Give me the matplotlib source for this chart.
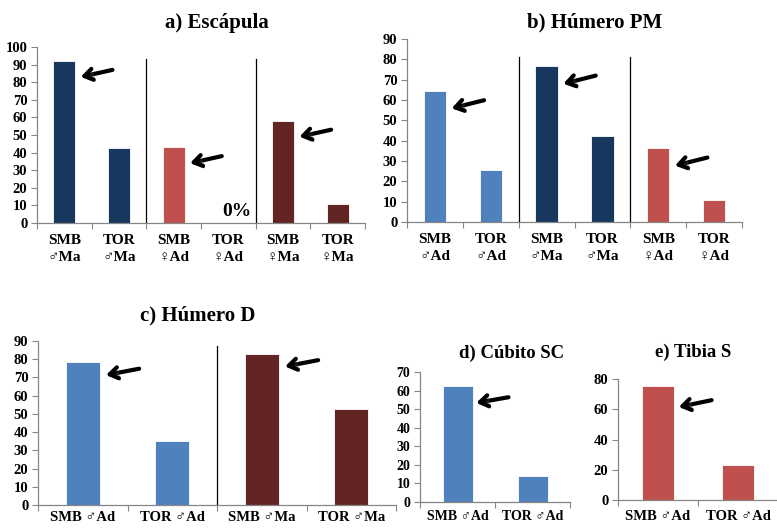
import numpy as np
import matplotlib.pyplot as plt
from matplotlib import patheffects as pe
from matplotlib.ticker import FixedLocator

# colours
LBLUE = '#4F81BD'
NAVY = '#17375E'
RED = '#C0504D'
MAROON = '#632523'

# --- data ---
a_labels = ['SMB\n♂Ma', 'TOR\n♂Ma', 'SMB\n♀Ad', 'TOR\n♀Ad', 'SMB\n♀Ma', 'TOR\n♀Ma']
a_values = [92, 42.5, 43, 0, 58, 11]
a_colors = [NAVY, NAVY, RED, RED, MAROON, MAROON]

b_labels = ['SMB\n♂Ad', 'TOR\n♂Ad', 'SMB\n♂Ma', 'TOR\n♂Ma', 'SMB\n♀Ad', 'TOR\n♀Ad']
b_values = [64.4, 25.6, 76.5, 42.2, 36.2, 11]
b_colors = [LBLUE, LBLUE, NAVY, NAVY, RED, RED]

c_labels = ['SMB ♂Ad', 'TOR ♂Ad', 'SMB ♂Ma', 'TOR ♂Ma']
c_values = [78.3, 35.3, 83, 52.6]
c_colors = [LBLUE, LBLUE, MAROON, MAROON]

d_labels = ['SMB ♂Ad', 'TOR ♂Ad']
d_values = [62.4, 14]
d_colors = [LBLUE, LBLUE]

e_labels = ['SMB ♂Ad', 'TOR ♂Ad']
e_values = [75.5, 23]
e_colors = [RED, RED]

FONT = ['Liberation Serif', 'DejaVu Sans']
plt.rcParams['font.family'] = FONT
plt.rcParams['font.weight'] = 'bold'

W, H = 777, 528
fig = plt.figure(figsize=(W / 100, H / 100), dpi=100)


def px_axes(x0, x1, y_top, y_bot):
    return fig.add_axes([x0 / W, 1 - y_bot / H, (x1 - x0) / W, (y_bot - y_top) / H])


def panel(ax, labels, values, colors, ymax, ystep, width, dividers, div_top,
          arrows_at, head_dx, tail_dx, head_dy, tail_dy, xfs=11, xpad=8, yfs=10.5):
    n = len(values)
    x = np.arange(n)
    ax.bar(x, values, width=width, color=colors, edgecolor='white', linewidth=0.6, zorder=2)
    ax.set_xlim(-0.5, n - 0.5)
    ax.set_ylim(0, ymax)
    ax.set_yticks(np.arange(0, ymax + 1, ystep))
    ax.set_xticks(x)
    ax.set_xticklabels(labels, fontsize=xfs, fontweight='bold', linespacing=1.35)
    ax.xaxis.set_minor_locator(FixedLocator(np.arange(-0.5, n, 1.0)))
    ax.tick_params(axis='x', which='major', length=0, pad=xpad)
    ax.tick_params(axis='x', which='minor', length=4, color='#868686', width=0.8)
    ax.tick_params(axis='y', length=4, color='#868686', width=0.8, labelsize=yfs, pad=3)
    for t in ax.get_yticklabels():
        t.set_fontweight('bold')
    for s in ['top', 'right']:
        ax.spines[s].set_visible(False)
    for s in ['left', 'bottom']:
        ax.spines[s].set_color('#868686')
        ax.spines[s].set_linewidth(0.9)
    for d in dividers:
        ax.axvline(d, ymin=0, ymax=div_top, color='black', lw=0.9, zorder=3)
    for i in arrows_at:
        v = values[i]
        ax.annotate('', xy=(i + head_dx, v - head_dy), xytext=(i + tail_dx, v - tail_dy),
                    arrowprops=dict(arrowstyle='->,head_length=0.6,head_width=0.4',
                                    lw=3, color='black', shrinkA=0, shrinkB=0,
                                    path_effects=[pe.withSimplePatchShadow(offset=(1.5, -2), alpha=0.35)]),
                    zorder=4)


ax_a = px_axes(37, 365, 47, 223)
panel(ax_a, a_labels, a_values, a_colors, 100, 10, 0.4, [1.5, 3.5], 0.93,
      [0, 2, 4], 0.3, 0.88, 9, 5)
ax_a.text(3.15, 1.5, '0%', ha='center', va='bottom', fontsize=14, fontweight='bold')

ax_b = px_axes(407, 742, 39, 222)
panel(ax_b, b_labels, b_values, b_colors, 90, 10, 0.4, [1.5, 3.5], 0.9,
      [0, 2, 4], 0.3, 0.88, 8.5, 4.5)

ax_c = px_axes(38, 396, 341, 505)
panel(ax_c, c_labels, c_values, c_colors, 90, 10, 0.38, [1.5], 0.97,
      [0, 2], 0.26, 0.63, 7, 3.5, xfs=10.5, xpad=4)

ax_d = px_axes(420, 570, 372, 502)
panel(ax_d, d_labels, d_values, d_colors, 70, 10, 0.4, [], 0,
      [0], 0.25, 0.68, 9, 6, xfs=10, xpad=6, yfs=10)

ax_e = px_axes(618, 778, 379, 500)
panel(ax_e, e_labels, e_values, e_colors, 80, 20, 0.41, [], 0,
      [0], 0.26, 0.67, 14, 9.5, xfs=10.5, xpad=7, yfs=10.5)

# titles
def title(xp, yp, s, fs):
    fig.text(xp / W, 1 - yp / H, s, ha='center', va='center', fontsize=fs, fontweight='bold')

title(217, 23, 'a) Escápula', 15)
title(595, 22, 'b) Húmero PM', 15)
title(198, 315, 'c) Húmero D', 15)
title(512, 353, 'd) Cúbito SC', 13.5)
title(693, 352, 'e) Tibia S', 13.5)

fig.savefig('out.png', dpi=100, facecolor='white')
